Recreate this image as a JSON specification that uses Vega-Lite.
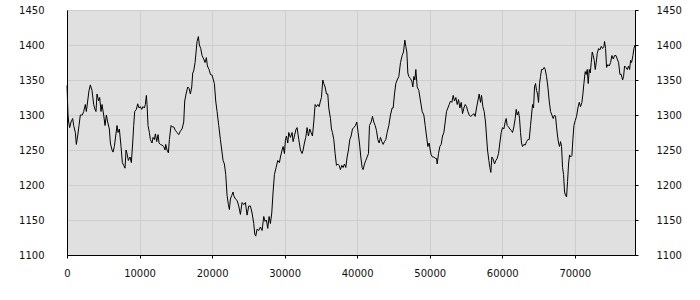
{
  "$schema": "https://vega.github.io/schema/vega-lite/v6.json",
  "width": 568,
  "height": 245,
  "autosize": {"type": "none"},
  "padding": {"left": 67, "top": 10, "right": 65, "bottom": 45},
  "background": "#ffffff",
  "config": {
    "view": {"fill": "#e0e0e0", "stroke": "#000000", "strokeWidth": 1},
    "axis": {
      "labelFont": "DejaVu Sans",
      "labelFontSize": 10,
      "labelColor": "#111111",
      "domainColor": "#000000",
      "tickColor": "#000000",
      "gridColor": "#cdcdcd",
      "gridOpacity": 1,
      "title": null
    }
  },
  "data": {"values": [
    {"x":0,"y":1342},{"x":138,"y":1300},{"x":230,"y":1290},{"x":368,"y":1282},{"x":552,"y":1290},{"x":781,"y":1295},{"x":919,"y":1285},{"x":1149,"y":1275},{"x":1287,"y":1258},{"x":1471,"y":1270},{"x":1655,"y":1285},{"x":1839,"y":1300},{"x":2115,"y":1300},{"x":2299,"y":1305},{"x":2528,"y":1315},{"x":2666,"y":1305},{"x":2850,"y":1320},{"x":3034,"y":1335},{"x":3218,"y":1343},{"x":3448,"y":1335},{"x":3678,"y":1315},{"x":3861,"y":1308},{"x":3999,"y":1305},{"x":4137,"y":1330},{"x":4367,"y":1320},{"x":4505,"y":1325},{"x":4689,"y":1305},{"x":4827,"y":1315},{"x":5057,"y":1300},{"x":5241,"y":1285},{"x":5424,"y":1300},{"x":5608,"y":1290},{"x":5838,"y":1280},{"x":5976,"y":1260},{"x":6206,"y":1250},{"x":6344,"y":1247},{"x":6528,"y":1255},{"x":6712,"y":1270},{"x":6896,"y":1285},{"x":7034,"y":1275},{"x":7217,"y":1280},{"x":7447,"y":1255},{"x":7631,"y":1232},{"x":7815,"y":1228},{"x":7999,"y":1224},{"x":8137,"y":1250},{"x":8275,"y":1245},{"x":8458,"y":1235},{"x":8688,"y":1240},{"x":8872,"y":1232},{"x":9056,"y":1260},{"x":9194,"y":1285},{"x":9332,"y":1305},{"x":9562,"y":1308},{"x":9746,"y":1316},{"x":9930,"y":1310},{"x":10113,"y":1312},{"x":10297,"y":1308},{"x":10481,"y":1312},{"x":10665,"y":1310},{"x":10803,"y":1315},{"x":10941,"y":1328},{"x":11033,"y":1315},{"x":11171,"y":1285},{"x":11355,"y":1275},{"x":11493,"y":1265},{"x":11722,"y":1260},{"x":11860,"y":1268},{"x":12044,"y":1265},{"x":12182,"y":1273},{"x":12366,"y":1262},{"x":12550,"y":1272},{"x":12688,"y":1260},{"x":12872,"y":1258},{"x":13101,"y":1257},{"x":13331,"y":1255},{"x":13515,"y":1250},{"x":13607,"y":1258},{"x":13791,"y":1250},{"x":13975,"y":1246},{"x":14113,"y":1265},{"x":14343,"y":1285},{"x":14527,"y":1283},{"x":14710,"y":1283},{"x":14940,"y":1278},{"x":15170,"y":1275},{"x":15400,"y":1272},{"x":15630,"y":1277},{"x":15860,"y":1280},{"x":16090,"y":1290},{"x":16227,"y":1320},{"x":16411,"y":1330},{"x":16641,"y":1340},{"x":16825,"y":1338},{"x":17009,"y":1330},{"x":17193,"y":1340},{"x":17331,"y":1360},{"x":17469,"y":1363},{"x":17652,"y":1375},{"x":17790,"y":1390},{"x":17928,"y":1405},{"x":18112,"y":1412},{"x":18250,"y":1400},{"x":18434,"y":1395},{"x":18618,"y":1385},{"x":18848,"y":1380},{"x":19032,"y":1375},{"x":19215,"y":1382},{"x":19353,"y":1370},{"x":19583,"y":1365},{"x":19767,"y":1358},{"x":19997,"y":1357},{"x":20181,"y":1350},{"x":20319,"y":1345},{"x":20503,"y":1320},{"x":20687,"y":1305},{"x":20916,"y":1285},{"x":21146,"y":1265},{"x":21330,"y":1250},{"x":21514,"y":1235},{"x":21698,"y":1230},{"x":21882,"y":1215},{"x":22066,"y":1185},{"x":22249,"y":1172},{"x":22387,"y":1165},{"x":22525,"y":1180},{"x":22709,"y":1185},{"x":22893,"y":1190},{"x":22985,"y":1185},
    {"x":23215,"y":1180},{"x":23445,"y":1178},{"x":23675,"y":1170},{"x":23904,"y":1158},{"x":24134,"y":1175},{"x":24364,"y":1172},{"x":24594,"y":1175},{"x":24824,"y":1157},{"x":25054,"y":1170},{"x":25283,"y":1170},{"x":25513,"y":1160},{"x":25743,"y":1145},{"x":25881,"y":1130},{"x":26019,"y":1127},{"x":26203,"y":1137},{"x":26433,"y":1135},{"x":26663,"y":1140},{"x":26893,"y":1135},{"x":27122,"y":1155},{"x":27306,"y":1148},{"x":27490,"y":1150},{"x":27674,"y":1138},{"x":27858,"y":1155},{"x":28042,"y":1145},{"x":28226,"y":1160},{"x":28410,"y":1190},{"x":28594,"y":1215},{"x":28824,"y":1225},{"x":29053,"y":1235},{"x":29283,"y":1232},{"x":29421,"y":1240},{"x":29651,"y":1250},{"x":29789,"y":1255},{"x":29973,"y":1245},{"x":30111,"y":1264},{"x":30249,"y":1270},{"x":30433,"y":1260},{"x":30571,"y":1275},{"x":30801,"y":1268},{"x":31031,"y":1275},{"x":31168,"y":1262},{"x":31352,"y":1270},{"x":31582,"y":1280},{"x":31720,"y":1282},{"x":31950,"y":1265},{"x":32180,"y":1250},{"x":32410,"y":1245},{"x":32548,"y":1250},{"x":32731,"y":1260},{"x":32915,"y":1268},{"x":33099,"y":1282},{"x":33283,"y":1270},{"x":33467,"y":1280},{"x":33651,"y":1275},{"x":33835,"y":1270},{"x":34018,"y":1290},{"x":34202,"y":1315},{"x":34386,"y":1312},{"x":34570,"y":1315},{"x":34754,"y":1312},{"x":34938,"y":1320},{"x":35076,"y":1325},{"x":35260,"y":1350},{"x":35398,"y":1345},{"x":35581,"y":1340},{"x":35765,"y":1330},{"x":35949,"y":1330},{"x":36087,"y":1310},{"x":36317,"y":1295},{"x":36455,"y":1280},{"x":36593,"y":1275},{"x":36777,"y":1265},{"x":36961,"y":1245},{"x":37145,"y":1228},{"x":37329,"y":1230},{"x":37513,"y":1228},{"x":37696,"y":1222},{"x":37880,"y":1228},{"x":38064,"y":1225},{"x":38248,"y":1230},{"x":38432,"y":1225},{"x":38616,"y":1240},{"x":38800,"y":1250},{"x":38984,"y":1265},{"x":39168,"y":1270},{"x":39352,"y":1280},{"x":39535,"y":1282},{"x":39765,"y":1285},{"x":39949,"y":1290},{"x":40133,"y":1275},{"x":40317,"y":1260},{"x":40501,"y":1240},{"x":40685,"y":1225},{"x":40823,"y":1222},{"x":41007,"y":1230},{"x":41191,"y":1235},{"x":41375,"y":1240},{"x":41559,"y":1245},{"x":41697,"y":1285},{"x":41927,"y":1290},{"x":42110,"y":1298},{"x":42294,"y":1290},{"x":42478,"y":1285},{"x":42662,"y":1278},{"x":42846,"y":1265},{"x":43030,"y":1260},{"x":43214,"y":1268},{"x":43398,"y":1262},{"x":43582,"y":1258},{"x":43766,"y":1262},{"x":43950,"y":1265},{"x":44134,"y":1275},{"x":44363,"y":1285},{"x":44593,"y":1300},{"x":44823,"y":1310},{"x":44961,"y":1310},{"x":45145,"y":1330},{"x":45329,"y":1345},{"x":45513,"y":1350},{"x":45743,"y":1355},{"x":45973,"y":1375},{"x":46203,"y":1385},{"x":46387,"y":1390},{"x":46571,"y":1407},{"x":46709,"y":1398},{"x":46847,"y":1390},{"x":46985,"y":1360},{"x":47123,"y":1355},{"x":47353,"y":1352},{"x":47537,"y":1348},{"x":47675,"y":1340},{"x":47812,"y":1355},{"x":47950,"y":1350},{"x":48088,"y":1365},{"x":48272,"y":1340},{"x":48502,"y":1335},{"x":48732,"y":1320},{"x":48962,"y":1305},{"x":49192,"y":1300},{"x":49376,"y":1285},{"x":49560,"y":1270},{"x":49744,"y":1255},{"x":49927,"y":1260},{"x":50065,"y":1250},{"x":50203,"y":1243},{"x":50387,"y":1240},{"x":50571,"y":1240},{"x":50755,"y":1238},{"x":50939,"y":1238},{"x":51031,"y":1230},{"x":51215,"y":1245},{"x":51399,"y":1255},{"x":51583,"y":1258},{"x":51767,"y":1270},{"x":51951,"y":1275},{"x":52135,"y":1290},{"x":52319,"y":1305},{"x":52503,"y":1310},{"x":52686,"y":1315},{"x":52870,"y":1320},{"x":53054,"y":1318},{"x":53238,"y":1328},{"x":53422,"y":1320},{"x":53606,"y":1325},{"x":53790,"y":1315},{"x":53974,"y":1322},{"x":54158,"y":1310},{"x":54342,"y":1318},{"x":54526,"y":1302},{"x":54710,"y":1310},{"x":54894,"y":1315},{"x":55078,"y":1312},{"x":55262,"y":1305},{"x":55446,"y":1300},{"x":55630,"y":1298},
    {"x":55900,"y":1300},{"x":56084,"y":1302},{"x":56268,"y":1298},{"x":56452,"y":1310},{"x":56636,"y":1320},{"x":56820,"y":1330},{"x":57004,"y":1318},{"x":57141,"y":1328},{"x":57325,"y":1312},{"x":57509,"y":1305},{"x":57693,"y":1290},{"x":57831,"y":1270},{"x":57969,"y":1250},{"x":58153,"y":1235},{"x":58291,"y":1225},{"x":58428,"y":1218},{"x":58566,"y":1240},{"x":58750,"y":1237},{"x":58934,"y":1230},{"x":59118,"y":1235},{"x":59302,"y":1238},{"x":59486,"y":1245},{"x":59670,"y":1260},{"x":59854,"y":1275},{"x":60038,"y":1282},{"x":60222,"y":1280},{"x":60406,"y":1290},{"x":60543,"y":1295},{"x":60681,"y":1285},{"x":60865,"y":1283},{"x":61049,"y":1280},{"x":61233,"y":1278},{"x":61417,"y":1275},{"x":61601,"y":1283},{"x":61785,"y":1295},{"x":61923,"y":1308},{"x":62061,"y":1300},{"x":62245,"y":1305},{"x":62383,"y":1295},{"x":62520,"y":1275},{"x":62658,"y":1260},{"x":62796,"y":1255},{"x":62980,"y":1258},{"x":63164,"y":1257},{"x":63348,"y":1262},{"x":63532,"y":1265},{"x":63716,"y":1265},{"x":63900,"y":1285},{"x":64038,"y":1300},{"x":64175,"y":1315},{"x":64313,"y":1310},{"x":64451,"y":1340},{"x":64589,"y":1345},{"x":64727,"y":1335},{"x":64865,"y":1330},{"x":65003,"y":1318},{"x":65141,"y":1345},{"x":65279,"y":1355},{"x":65417,"y":1365},{"x":65601,"y":1365},{"x":65785,"y":1368},{"x":65923,"y":1365},{"x":66106,"y":1355},{"x":66290,"y":1340},{"x":66474,"y":1320},{"x":66658,"y":1305},{"x":66842,"y":1300},{"x":67026,"y":1295},{"x":67210,"y":1300},{"x":67348,"y":1298},{"x":67486,"y":1283},{"x":67624,"y":1270},{"x":67762,"y":1260},{"x":67900,"y":1255},{"x":68038,"y":1262},{"x":68175,"y":1255},{"x":68313,"y":1225},{"x":68451,"y":1215},{"x":68589,"y":1190},{"x":68727,"y":1185},{"x":68865,"y":1183},{"x":69003,"y":1205},{"x":69141,"y":1230},{"x":69279,"y":1243},{"x":69417,"y":1240},{"x":69601,"y":1242},{"x":69738,"y":1265},{"x":69876,"y":1285},{"x":70060,"y":1292},{"x":70244,"y":1298},{"x":70428,"y":1310},{"x":70612,"y":1318},{"x":70796,"y":1312},{"x":70980,"y":1318},{"x":71118,"y":1330},{"x":71256,"y":1345},{"x":71439,"y":1362},{"x":71577,"y":1358},{"x":71715,"y":1365},{"x":71853,"y":1345},{"x":71991,"y":1365},{"x":72129,"y":1360},{"x":72267,"y":1375},{"x":72405,"y":1390},{"x":72543,"y":1385},{"x":72681,"y":1378},{"x":72819,"y":1365},{"x":72957,"y":1375},{"x":73095,"y":1388},{"x":73279,"y":1395},{"x":73463,"y":1393},{"x":73646,"y":1398},{"x":73830,"y":1395},{"x":74014,"y":1398},{"x":74106,"y":1405},{"x":74244,"y":1395},{"x":74382,"y":1368},{"x":74566,"y":1372},{"x":74750,"y":1370},{"x":74934,"y":1375},{"x":75118,"y":1385},{"x":75302,"y":1380},{"x":75486,"y":1385},{"x":75670,"y":1385},{"x":75853,"y":1380},{"x":76037,"y":1375},{"x":76221,"y":1358},{"x":76405,"y":1358},{"x":76589,"y":1350},{"x":76727,"y":1355},{"x":76865,"y":1370},{"x":77049,"y":1368},{"x":77233,"y":1365},{"x":77417,"y":1370},{"x":77555,"y":1365},{"x":77693,"y":1378},{"x":77831,"y":1375},{"x":78015,"y":1385},{"x":78153,"y":1395},{"x":78291,"y":1400}
  ]},
  "layer": [
    {
      "mark": {"type": "line", "color": "#000000", "strokeWidth": 1, "interpolate": "linear"},
      "encoding": {
        "x": {"field": "x", "type": "quantitative",
              "scale": {"domain": [0, 78300], "nice": false, "zero": false},
              "axis": {"orient": "bottom", "values": [0,10000,20000,30000,40000,50000,60000,70000], "format": "d", "grid": true, "tickSize": 3, "labelPadding": 10, "labelBaseline": "top", "labelFlush": false}},
        "y": {"field": "y", "type": "quantitative",
              "scale": {"domain": [1100, 1450], "nice": false, "zero": false},
              "axis": {"orient": "left", "values": [1100,1150,1200,1250,1300,1350,1400,1450], "format": "d", "grid": true, "ticks": false, "labelPadding": 23}}
      }
    },
    {
      "mark": {"type": "line", "strokeOpacity": 0},
      "encoding": {
        "x": {"field": "x", "type": "quantitative",
              "scale": {"domain": [0, 78300], "nice": false, "zero": false},
              "axis": {"orient": "bottom", "values": [0,10000,20000,30000,40000,50000,60000,70000], "format": "d", "grid": true, "tickSize": 3, "labelPadding": 10, "labelBaseline": "top", "labelFlush": false}},
        "y": {"field": "y", "type": "quantitative",
              "scale": {"domain": [1100, 1450], "nice": false, "zero": false},
              "axis": {"orient": "right", "values": [1100,1150,1200,1250,1300,1350,1400,1450], "format": "d", "grid": false, "tickSize": 3, "labelPadding": 18}}
      }
    }
  ],
  "resolve": {"scale": {"x": "shared", "y": "shared"}, "axis": {"y": "independent"}}
}
